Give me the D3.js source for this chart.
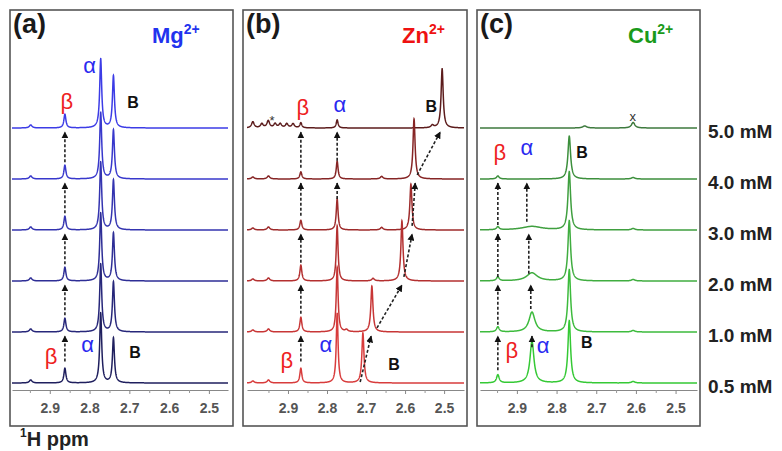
<!DOCTYPE html>
<html>
<head>
<meta charset="utf-8">
<script src="https://cdn.jsdelivr.net/npm/d3@7/dist/d3.min.js"></script>
<style>
  body { margin: 0; background: #fff; }
  text { font-family: "Liberation Sans", Arial, sans-serif; }
</style>
</head>
<body>
<svg id="chart" width="782" height="451"></svg>
<script>
// concentrations, bottom trace first
const CONC = ["0.5 mM", "1.0 mM", "2.0 mM", "3.0 mM", "4.0 mM", "5.0 mM"];
const TICKS = [2.9, 2.8, 2.7, 2.6, 2.5];
const MINOR_TICKS = [2.95, 2.85, 2.75, 2.65, 2.55];

// peak heights are in units of the trace spacing
// (a) Mg2+ : beta 2.862, alpha 2.772, B 2.740 ppm
const MG_BETA = [0.29, 0.27, 0.27, 0.27, 0.27, 0.27];
const MG_ALPHA = [1.37, 1.33, 1.33, 1.33, 1.30, 1.35];
const MG_B = [0.88, 0.98, 0.94, 0.98, 0.96, 1.02];

// (b) Zn2+ : B peak moves upfield
const ZN_BETA = [0.29, 0.29, 0.31, 0.19, 0.14, 0.10];
const ZN_ALPHA = [1.37, 1.27, 1.08, 0.61, 0.35, 0.16];
const ZN_B = [0.98, 0.90, 1.18, 0.90, 1.18, 1.16];
const ZN_B_PPM = [2.708, 2.685, 2.608, 2.585, 2.577, 2.505];
const ZN_STAR_PPM = [2.990, 2.967, 2.951, 2.933, 2.920, 2.903, 2.887];

// (c) Cu2+ : beta 2.948, alpha 2.862, B 2.768 ppm, alpha broadens
const CU_BETA = [0.16, 0.10, 0.08, 0.06, 0.06, 0];
const CU_ALPHA = [0.82, 0.39, 0.16, 0.07, 0, 0];
const CU_ALPHA_W = [0.006, 0.009, 0.016, 0.03, 0.03, 0.03];
const CU_B = [1.22, 1.22, 1.18, 1.14, 0.84, 0];

const MG_COLORS = ["#1f1f5e", "#27277a", "#2e2e96", "#3434b0", "#3838cc", "#3c3ce6"];
const ZN_COLORS = ["#d83c3c", "#c83636", "#b43030", "#9e2b2b", "#862525", "#5c1c1c"];
const CU_COLORS = ["#35c935", "#3dbb3d", "#40ad40", "#3f9f3f", "#3c8f3c", "#3e7a3e"];

function mgPeaks(i) {
  return [[2.948, 0.06, 0.004], [2.862, MG_BETA[i], 0.003],
          [2.772, MG_ALPHA[i], 0.003], [2.740, MG_B[i], 0.003]];
}
function znPeaks(i) {
  let p = [[2.990, 0.04, 0.004], [2.950, 0.06, 0.004], [2.867, ZN_BETA[i], 0.003],
           [2.774, ZN_ALPHA[i], 0.0028], [ZN_B_PPM[i], ZN_B[i], 0.0032]];
  if (i == 3 || i == 4) p.push([2.66, 0.05, 0.004]);
  if (i == 2) p.push([2.682, 0.05, 0.004]);
  if (i == 1) p.push([2.75, 0.04, 0.004]);
  if (i == 5) {
    ZN_STAR_PPM.forEach(c => p.push([c, 0.08, 0.004]));
    p.push([2.53, 0.05, 0.004]);
  }
  return p;
}
function cuPeaks(i) {
  let p = [[2.948, CU_BETA[i], 0.004], [2.862, CU_ALPHA[i], CU_ALPHA_W[i]],
           [2.768, CU_B[i], 0.004], [2.607, 0.03, 0.005]];
  if (i == 5) p.push([2.729, 0.04, 0.006], [2.607, 0.08, 0.005]);
  return p;
}

// dashed arrows: [ppm tail, ppm head, lower trace, tail height]
const MG_ARROWS = [[2.862, 2.862, 0, 0.42], [2.862, 2.862, 1, 0.33], [2.862, 2.862, 2, 0.33],
                   [2.862, 2.862, 3, 0.33], [2.862, 2.862, 4, 0.33]];
const ZN_ARROWS = [[2.867, 2.867, 0, 0.42], [2.867, 2.867, 1, 0.36], [2.867, 2.867, 2, 0.36],
                   [2.867, 2.867, 3, 0.28], [2.867, 2.867, 4, 0.22],
                   [2.774, 2.774, 3, 0.61], [2.774, 2.774, 4, 0.36],
                   [2.715, 2.687, 0, 0.02], [2.672, 2.608, 1, 0.08], [2.603, 2.582, 2, 0.08],
                   [2.582, 2.574, 3, 0.08], [2.569, 2.510, 4, 0.08]];
const CU_ARROWS = [[2.948, 2.948, 0, 0.25], [2.948, 2.948, 1, 0.14], [2.948, 2.948, 2, 0.08],
                   [2.948, 2.948, 3, 0.1],
                   [2.862, 2.862, 0, 0.7], [2.865, 2.865, 1, 0.45], [2.870, 2.870, 2, 0.14],
                   [2.875, 2.875, 3, 0.16]];

// greek / B labels: [text, ppm, level, color]
const MG_LABELS = [["β", 2.857, 5.37, "#ee2222"], ["α", 2.800, 6.08, "#2a2af0"], ["B", 2.691, 5.39, "#111"],
                   ["β", 2.897, 0.37, "#ee2222"], ["α", 2.805, 0.61, "#2a2af0"], ["B", 2.686, 0.49, "#111"]];
const ZN_LABELS = [["β", 2.862, 5.26, "#ee2222"], ["α", 2.767, 5.31, "#2a2af0"], ["B", 2.533, 5.31, "#111"],
                   ["β", 2.903, 0.29, "#ee2222"], ["α", 2.803, 0.61, "#2a2af0"], ["B", 2.628, 0.25, "#111"]];
const CU_LABELS = [["β", 2.943, 4.38, "#ee2222"], ["α", 2.875, 4.47, "#2a2af0"], ["B", 2.736, 4.41, "#111"],
                   ["β", 2.913, 0.49, "#ee2222"], ["α", 2.834, 0.59, "#2a2af0"], ["B", 2.724, 0.69, "#111"]];

const panels = [
  { letter: "(a)", ion: "Mg", ionColor: "#2233ee", left: 10, right: 233, ionX: 152,
    dom: [2.995, 2.452], range: [12, 228], peaks: mgPeaks, colors: MG_COLORS,
    arrows: MG_ARROWS, labels: MG_LABELS },
  { letter: "(b)", ion: "Zn", ionColor: "#ee1111", left: 243, right: 467, ionX: 402,
    dom: [3.005, 2.449], range: [247, 464], peaks: znPeaks, colors: ZN_COLORS,
    arrows: ZN_ARROWS, labels: ZN_LABELS, extra: [["*", 2.941, 5.06]] },
  { letter: "(c)", ion: "Cu", ionColor: "#1a9a1a", left: 477, right: 700, ionX: 628,
    dom: [2.993, 2.446], range: [480, 697], peaks: cuPeaks, colors: CU_COLORS,
    arrows: CU_ARROWS, labels: CU_LABELS, extra: [["x", 2.608, 5.14]] }
];

const svg = d3.select("#chart");
const y = d3.scaleLinear().domain([0, 5]).range([383, 128]);

svg.append("defs").append("marker")
  .attr("id", "ah").attr("viewBox", "0 0 10 10")
  .attr("refX", 9).attr("refY", 5)
  .attr("markerWidth", 7).attr("markerHeight", 7)
  .attr("markerUnits", "userSpaceOnUse").attr("orient", "auto")
  .append("path").attr("d", "M0,0L10,5L0,10z").attr("fill", "#111");

// lorentzian sum sampled over the ppm window
function spectrum(peaks, dom) {
  let ppm = d3.range(0, 1401).map(k => dom[0] - k * (dom[0] - dom[1]) / 1400);
  peaks.forEach(p => { if (p[0] < dom[0] && p[0] > dom[1]) ppm.push(p[0]); });
  ppm.sort((a, b) => b - a);
  return ppm.map(p => {
    let v = 0;
    peaks.forEach(([c, h, w]) => { v += h / (1 + ((p - c) / w) ** 2); });
    return [p, v];
  });
}

panels.forEach(pn => {
  const x = d3.scaleLinear().domain(pn.dom).range(pn.range);
  const g = svg.append("g");

  g.append("rect")
    .attr("x", pn.left).attr("y", 10)
    .attr("width", pn.right - pn.left).attr("height", 416)
    .attr("fill", "none").attr("stroke", "#555").attr("stroke-width", 1.6);

  // traces, top first so lower ones sit on top
  for (let i = CONC.length - 1; i >= 0; i--) {
    const line = d3.line().x(d => x(d[0])).y(d => y(i + d[1]));
    g.append("path")
      .attr("d", line(spectrum(pn.peaks(i), pn.dom)))
      .attr("fill", "none")
      .attr("stroke", pn.colors[i])
      .attr("stroke-width", 1.5);
  }

  // dashed arrows
  g.selectAll(".arrow").data(pn.arrows).join("line")
    .attr("class", "arrow")
    .attr("x1", d => x(d[0])).attr("y1", d => y(d[2] + d[3]))
    .attr("x2", d => x(d[1])).attr("y2", d => y(d[2] + 1 - 0.08))
    .attr("stroke", "#222").attr("stroke-width", 1.6)
    .attr("stroke-dasharray", "3,2")
    .attr("marker-end", "url(#ah)");

  // peak labels
  g.selectAll(".plabel").data(pn.labels).join("text")
    .attr("class", "plabel")
    .attr("x", d => x(d[1])).attr("y", d => y(d[2]))
    .attr("text-anchor", "middle")
    .attr("font-size", d => d[0] == "B" ? 16 : 22)
    .attr("font-weight", d => d[0] == "B" ? "bold" : "normal")
    .attr("fill", d => d[3])
    .text(d => d[0]);

  if (pn.extra) {
    g.selectAll(".xlabel").data(pn.extra).join("text")
      .attr("class", "xlabel")
      .attr("x", d => x(d[1])).attr("y", d => y(d[2]))
      .attr("text-anchor", "middle")
      .attr("font-size", 13).attr("fill", "#333")
      .text(d => d[0]);
  }

  // x axis
  const ax = g.append("g").attr("transform", "translate(0,390)")
    .call(d3.axisBottom(x).tickValues(TICKS).tickSize(4).tickSizeOuter(0)
      .tickPadding(9).tickFormat(d3.format(".1f")));
  ax.select(".domain").attr("stroke", "#888").attr("stroke-width", 1.2);
  ax.selectAll(".tick line").attr("stroke", "#888");
  ax.selectAll(".tick text")
    .attr("font-size", 14).attr("font-weight", "bold").attr("fill", "#555")
    .attr("font-family", "Liberation Sans, Arial, sans-serif");

  const mx = g.append("g").attr("transform", "translate(0,390)")
    .call(d3.axisBottom(x).tickValues(MINOR_TICKS).tickSize(3).tickFormat(""));
  mx.select(".domain").remove();
  mx.selectAll(".tick line").attr("stroke", "#999");

  // panel letter and ion
  g.append("text")
    .attr("x", pn.left + 3).attr("y", 33)
    .attr("font-size", 27).attr("font-weight", "bold").attr("fill", "#1a1a1a")
    .text(pn.letter);

  const ion = g.append("text")
    .attr("x", pn.ionX).attr("y", 43)
    .attr("font-size", 22).attr("font-weight", "bold").attr("fill", pn.ionColor);
  ion.append("tspan").text(pn.ion);
  ion.append("tspan").attr("font-size", 14).attr("dy", -9).text("2+");
});

// concentration labels at the right
svg.selectAll(".conc").data(CONC).join("text")
  .attr("class", "conc")
  .attr("x", 708).attr("y", (d, i) => y(i) + 10)
  .attr("font-size", 19).attr("font-weight", "bold").attr("fill", "#222")
  .text(d => d);

// 1H ppm
const unit = svg.append("text").attr("x", 20).attr("y", 446)
  .attr("font-size", 20).attr("font-weight", "bold").attr("fill", "#222");
unit.append("tspan").attr("font-size", 12).attr("dy", -9).text("1");
unit.append("tspan").attr("dy", 9).text("H ppm");
</script>
</body>
</html>
